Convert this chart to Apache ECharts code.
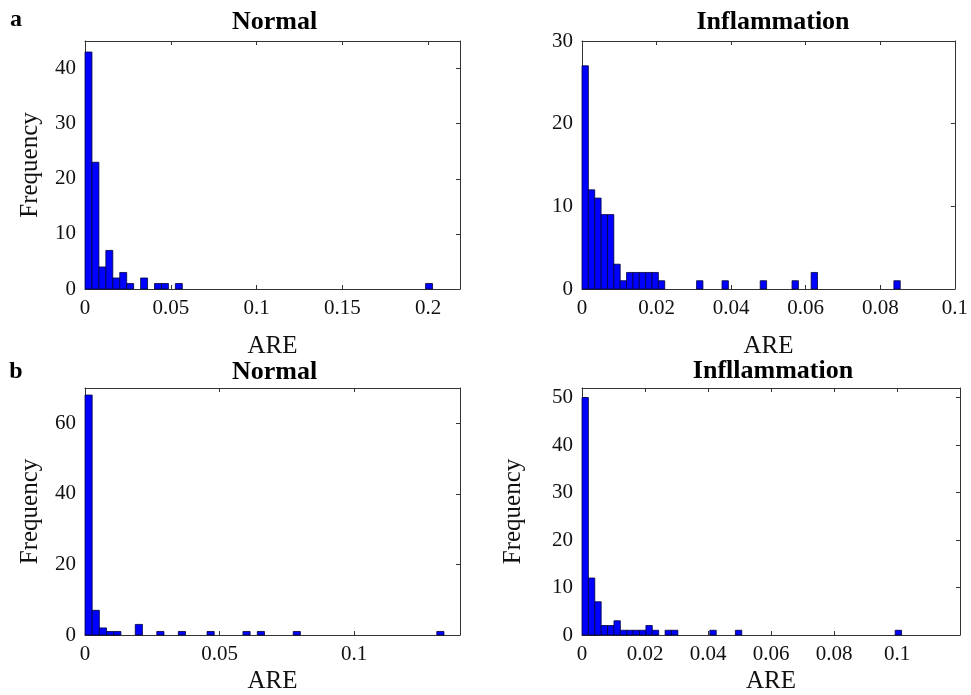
<!DOCTYPE html>
<html>
<head>
<meta charset="utf-8">
<script src="https://cdn.jsdelivr.net/npm/echarts@6/dist/echarts.min.js"></script>
<style>
  html, body { margin: 0; padding: 0; background: #fff; }
  #chart { width: 971px; height: 695px; }
</style>
</head>
<body>
<div id="chart"></div>
<script>
// histogram counts, 50 bins per panel, first bin starts at ARE = 0
var normalA = [43, 23, 4, 7, 2, 3, 1, 0, 2, 0, 1, 1, 0, 1, 0, 0, 0, 0, 0, 0,
               0, 0, 0, 0, 0, 0, 0, 0, 0, 0, 0, 0, 0, 0, 0, 0, 0, 0, 0, 0,
               0, 0, 0, 0, 0, 0, 0, 0, 0, 1];
var inflamA = [27, 12, 11, 9, 9, 3, 1, 2, 2, 2, 2, 2, 1, 0, 0, 0, 0, 0, 1, 0,
               0, 0, 1, 0, 0, 0, 0, 0, 1, 0, 0, 0, 0, 1, 0, 0, 2, 0, 0, 0,
               0, 0, 0, 0, 0, 0, 0, 0, 0, 1];
var normalB = [68, 7, 2, 1, 1, 0, 0, 3, 0, 0, 1, 0, 0, 1, 0, 0, 0, 1, 0, 0,
               0, 0, 1, 0, 1, 0, 0, 0, 0, 1, 0, 0, 0, 0, 0, 0, 0, 0, 0, 0,
               0, 0, 0, 0, 0, 0, 0, 0, 0, 1];
var inflamB = [50, 12, 7, 2, 2, 3, 1, 1, 1, 1, 2, 1, 0, 1, 1, 0, 0, 0, 0, 0,
               1, 0, 0, 0, 1, 0, 0, 0, 0, 0, 0, 0, 0, 0, 0, 0, 0, 0, 0, 0,
               0, 0, 0, 0, 0, 0, 0, 0, 0, 1];

// bin widths (ARE units)
var binWidths = [0.00405, 0.001707, 0.002667, 0.002029];

var xMax = [0.2185, 0.1, 0.1393, 0.12];
var xStep = [0.05, 0.02, 0.05, 0.02];
var yMax = [45, 30, 70, 52];
var yStep = [10, 10, 20, 10];
var titles = ['Normal', 'Inflammation', 'Normal', 'Infllammation'];
var panelLetters = ['a', 'b'];

var serif = '"Liberation Serif", "Times New Roman", serif';

var grids = [
    {left: 85, top: 41, width: 375, height: 248},
    {left: 582, top: 41, width: 378, height: 248},
    {left: 85, top: 388, width: 375, height: 248},
    {left: 582, top: 388, width: 378, height: 248}
];
var titleY = [22, 22, 372, 371];
var xNameGap = [45, 45, 34, 34];
var yNames = ['Frequency', '', 'Frequency', 'Frequency'];
var yNameGap = [42, 42, 42, 56];
// only the Inflammation (a) panel has a labelled tick at the axis end
var showXMax = [false, true, false, false];
var showYMax = [false, true, false, false];

var toBins = function(counts, w) {
    var out = [];
    for (var i = 0; i < counts.length; i++) {
        if (counts[i] > 0) {
            out.push([i * w, (i + 1) * w, counts[i]]);
        }
    }
    return out;
};

var renderBar = function(params, api) {
    var p0 = api.coord([api.value(0), api.value(2)]);
    var p1 = api.coord([api.value(1), 0]);
    return {
        type: 'rect',
        shape: {x: p0[0], y: p0[1], width: p1[0] - p0[0], height: p1[1] - p0[1]},
        style: {fill: '#0000ff', stroke: '#00003a', lineWidth: 0.8}
    };
};

var allCounts = [normalA, inflamA, normalB, inflamB];
var xAxes = [], yAxes = [], series = [], graphics = [];
var lineStyle = {color: '#333', width: 1};
var tick = {show: true, inside: true, length: 4, lineStyle: lineStyle};

for (var g = 0; g < 4; g++) {
    var base = {
        type: 'value', gridIndex: g, min: 0, max: xMax[g], interval: xStep[g],
        splitLine: {show: false}, axisLine: {show: true, onZero: false, lineStyle: lineStyle},
        axisTick: tick
    };
    xAxes.push(Object.assign({}, base, {
        position: 'bottom',
        name: 'ARE', nameLocation: 'middle', nameGap: xNameGap[g],
        nameTextStyle: {fontFamily: serif, fontSize: 25, color: '#111'},
        axisLabel: {fontFamily: serif, fontSize: 21, color: '#111', margin: 9,
                    showMaxLabel: showXMax[g]}
    }));
    xAxes.push(Object.assign({}, base, {position: 'top', axisLabel: {show: false}}));

    var ybase = {
        type: 'value', gridIndex: g, min: 0, max: yMax[g], interval: yStep[g],
        splitLine: {show: false}, axisLine: {show: true, onZero: false, lineStyle: lineStyle},
        axisTick: tick
    };
    yAxes.push(Object.assign({}, ybase, {
        position: 'left',
        name: yNames[g], nameLocation: 'middle', nameGap: yNameGap[g],
        nameTextStyle: {fontFamily: serif, fontSize: 25, color: '#111'},
        axisLabel: {fontFamily: serif, fontSize: 21, color: '#111', margin: 9,
                    showMaxLabel: showYMax[g]}
    }));
    yAxes.push(Object.assign({}, ybase, {position: 'right', axisLabel: {show: false}}));

    series.push({
        type: 'custom',
        xAxisIndex: 2 * g,
        yAxisIndex: 2 * g,
        renderItem: renderBar,
        encode: {x: [0, 1], y: 2},
        data: toBins(allCounts[g], binWidths[g]),
        silent: true
    });

    graphics.push({
        type: 'text',
        x: grids[g].left + grids[g].width / 2 + 2,
        y: titleY[g],
        style: {
            text: titles[g], fill: '#000',
            font: 'bold 26px ' + serif,
            textAlign: 'center', textVerticalAlign: 'middle'
        }
    });
}

for (var r = 0; r < 2; r++) {
    graphics.push({
        type: 'text',
        x: 16,
        y: r === 0 ? 20 : 372,
        style: {
            text: panelLetters[r], fill: '#000',
            font: 'bold 24px ' + serif,
            textAlign: 'center', textVerticalAlign: 'middle'
        }
    });
}

var chart = echarts.init(document.getElementById('chart'), null, {renderer: 'canvas'});
chart.setOption({
    animation: false,
    backgroundColor: '#fff',
    grid: grids,
    xAxis: xAxes,
    yAxis: yAxes,
    series: series,
    graphic: graphics
});
</script>
</body>
</html>
